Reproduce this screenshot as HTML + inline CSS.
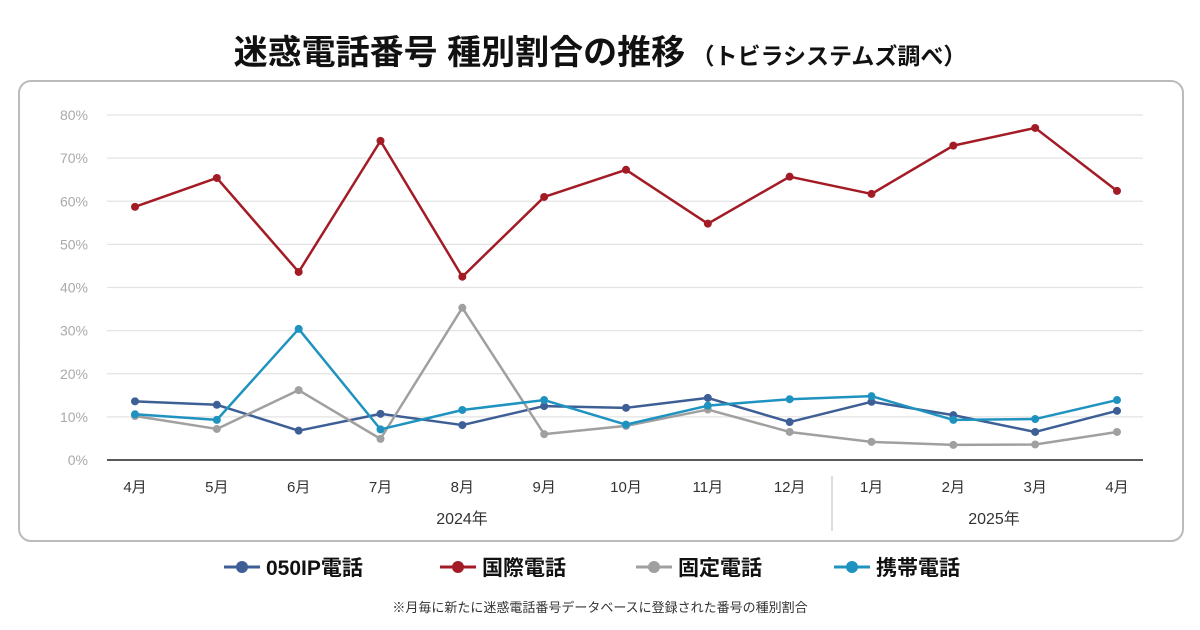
<!DOCTYPE html>
<html><head><meta charset="utf-8"><style>
body{margin:0;width:1200px;height:630px;background:#fff;font-family:"Liberation Sans","Noto Sans CJK JP",sans-serif;overflow:hidden}
svg{display:block}
</style></head><body>
<svg id="chart" width="1200" height="630">
<text x="600" y="64" text-anchor="middle" font-size="34" font-weight="bold" fill="#111">迷惑電話番号 種別割合の推移<tspan font-size="23"> （トビラシステムズ調べ）</tspan></text>
<rect x="19" y="81" width="1164" height="460" rx="12" fill="#fff" stroke="#bbb" stroke-width="2"/>
<g id="grid"></g><g id="axes"></g><g id="series"></g>
<line x1="832" y1="476" x2="832" y2="531" stroke="#bbb" stroke-width="1"/>
<text x="462" y="524" text-anchor="middle" font-size="16" fill="#333">2024年</text>
<text x="994" y="524" text-anchor="middle" font-size="16" fill="#333">2025年</text>
<g id="legend" font-size="21" font-weight="bold" fill="#111"></g>
<text x="600" y="612" text-anchor="middle" font-size="13" fill="#333">※月毎に新たに迷惑電話番号データベースに登録された番号の種別割合</text>
</svg>
<script>
const categories=["4月","5月","6月","7月","8月","9月","10月","11月","12月","1月","2月","3月","4月"];
const yTicks=[0,10,20,30,40,50,60,70,80];
const seriesNames=["050IP電話","国際電話","固定電話","携帯電話"];
const seriesColors=["#3d5f96","#a31b25","#a0a0a0","#1f93c0"];
const ip050=[13.6,12.8,6.8,10.7,8.1,12.5,12.1,14.4,8.8,13.5,10.4,6.5,11.4];
const intl=[58.7,65.4,43.6,74.0,42.5,61.0,67.3,54.8,65.7,61.7,72.9,77.0,62.4];
const fixed=[10.2,7.2,16.2,4.9,35.3,6.0,7.9,11.7,6.5,4.2,3.5,3.6,6.5];
const mobile=[10.6,9.3,30.4,7.1,11.6,13.9,8.2,12.6,14.1,14.8,9.3,9.5,13.9];
const seriesData=[ip050,intl,fixed,mobile];
const NS="http://www.w3.org/2000/svg";
const x=i=>135+i*(1117-135)/(categories.length-1);
const y=v=>460-v*(460-115)/80;
function mk(tag,attrs,parent){const e=document.createElementNS(NS,tag);for(const k in attrs)e.setAttribute(k,attrs[k]);parent.appendChild(e);return e;}
const grid=document.getElementById('grid'),axes=document.getElementById('axes'),ser=document.getElementById('series'),leg=document.getElementById('legend');
yTicks.forEach(t=>{
 if(t>0){const l=mk('line',{x1:107,x2:1143,y1:y(t),y2:y(t),stroke:'#e3e3e3','stroke-width':1.2},grid);
 
 }
 const tx=mk('text',{x:88,y:y(t)+5,'text-anchor':'end','font-size':14,fill:'#aaa'},axes);tx.textContent=t+'%';
 
 
});
const ax=mk('line',{x1:107,x2:1143,y1:460,y2:460,stroke:'#222','stroke-width':1.5},axes);


categories.forEach((c,i)=>{const tx=mk('text',{x:x(i),y:492,'text-anchor':'middle','font-size':15,fill:'#333'},axes);tx.textContent=c;
 
 });
seriesData.forEach((d,s)=>{
 const p=mk('polyline',{points:d.map((v,i)=>x(i)+','+y(v)).join(' '),fill:'none',stroke:seriesColors[s],'stroke-width':2.5,'stroke-linejoin':'round'},ser);
 
 
 d.forEach((v,i)=>{const c=mk('circle',{cx:x(i),cy:y(v),r:4,fill:seriesColors[s]},ser);
  
  });
});
const legX=[224,440,636,834];
seriesNames.forEach((n,s)=>{
 const g=mk('g',{},leg);
 
 
 mk('line',{x1:legX[s],x2:legX[s]+36,y1:567,y2:567,stroke:seriesColors[s],'stroke-width':3},g);
 mk('circle',{cx:legX[s]+18,cy:567,r:6,fill:seriesColors[s]},g);
 const t=mk('text',{x:legX[s]+42,y:575},g);t.textContent=n;
});
</script>
</body></html>
